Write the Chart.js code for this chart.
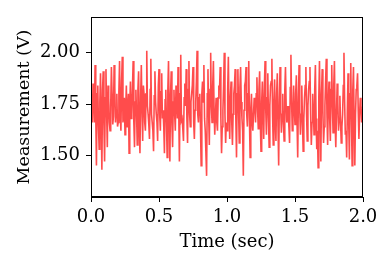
<!DOCTYPE html>
<html>
<head>
<meta charset="utf-8">
<script src="https://cdn.jsdelivr.net/npm/chart.js@4"></script>
<style>
html,body{margin:0;padding:0;background:#fff;}
#wrap{width:390px;height:264px;}
</style>
</head>
<body>
<div id="wrap"><canvas id="c" width="390" height="264"></canvas></div>
<script>
// Time axis (sec): main samples every 0.01 s from 0 to 2,
// with in-between samples half a step later
const timeStep = 0.01;
const measurement = [
1.80,1.66,1.78,1.94,1.45,1.84,1.53,1.90,1.43,1.91,
1.47,1.92,1.54,1.78,1.62,1.93,1.65,1.94,1.66,1.80,
1.66,1.96,1.62,1.98,1.70,1.60,1.84,1.72,1.51,1.86,
1.70,1.96,1.54,1.82,1.55,1.91,1.51,1.94,1.57,1.80,
1.62,2.01,1.70,1.58,1.97,1.66,1.52,1.91,1.70,1.57,
1.92,1.62,1.90,1.72,1.51,1.82,1.49,1.96,1.47,1.91,
1.54,1.82,1.62,1.78,1.93,1.47,1.99,1.68,1.57,1.85,
1.92,1.56,1.96,1.64,1.80,1.93,1.58,1.76,2.01,1.66,
1.80,1.45,1.86,1.94,1.62,1.40,1.92,1.55,2.00,1.66,
1.96,1.60,1.78,1.62,1.84,1.93,1.51,1.72,2.00,1.56,
1.62,1.98,1.58,1.86,1.55,1.80,1.92,1.49,1.92,1.56,
1.93,1.68,1.40,1.84,1.93,1.64,1.96,1.49,1.80,1.62,
1.78,1.66,1.88,1.63,1.91,1.52,1.86,1.58,1.96,1.60,
1.90,1.54,1.84,1.97,1.55,1.87,1.57,1.90,1.45,1.93,
1.61,1.80,1.57,1.93,1.66,1.74,1.56,1.99,1.62,1.84,
1.65,1.89,1.49,1.94,1.60,1.84,1.52,1.78,1.93,1.57,
1.82,1.93,1.55,1.80,1.60,1.94,1.53,1.44,1.96,1.47,
1.92,1.56,1.74,1.97,1.55,1.86,1.57,1.94,1.61,1.96,
1.54,1.85,1.62,1.79,1.56,1.70,2.00,1.60,1.49,1.90,
1.48,1.95,1.45,1.93,1.45,1.82,1.90,1.58,1.78,1.66,
1.76
];
// Measurement (V) at the in-between samples (dense core of the band)
const measurementMid = [
1.72,1.85,1.66,1.70,1.80,1.64,1.76,1.68,1.82,1.65,
1.78,1.70,1.84,1.66,1.74,1.80,1.69,1.83,1.72,1.64,
1.81,1.70,1.86,1.66,1.78,1.72,1.64,1.80,1.74,1.68,
1.83,1.66,1.76,1.70,1.82,1.64,1.78,1.72,1.84,1.66,
1.80,1.74,1.65,1.82,1.70,1.62,1.79,1.76,1.66,1.84,
1.70,1.81,1.68,1.64,1.77,1.66,1.82,1.70,1.80,1.65,
1.76,1.70,1.84,1.68,1.72,1.80,1.67,1.63,1.78,1.74,
1.68,1.82,1.70,1.76,1.84,1.66,1.72,1.86,1.70,1.78,
1.64,1.80,1.76,1.68,1.62,1.80,1.70,1.82,1.74,1.84,
1.72,1.70,1.66,1.78,1.82,1.68,1.64,1.84,1.70,1.66,
1.82,1.72,1.78,1.66,1.70,1.84,1.68,1.80,1.72,1.83,
1.76,1.62,1.72,1.86,1.70,1.80,1.68,1.72,1.66,1.70,
1.74,1.80,1.72,1.82,1.66,1.76,1.70,1.84,1.72,1.78,
1.68,1.74,1.86,1.70,1.76,1.66,1.80,1.64,1.76,1.72,
1.70,1.66,1.82,1.74,1.68,1.64,1.83,1.76,1.70,1.72,
1.80,1.66,1.78,1.72,1.70,1.66,1.68,1.84,1.70,1.74,
1.86,1.70,1.66,1.72,1.82,1.68,1.62,1.78,1.70,1.80,
1.72,1.64,1.86,1.70,1.76,1.68,1.82,1.74,1.84,1.66,
1.70,1.76,1.68,1.66,1.64,1.84,1.76,1.62,1.72,1.66,
1.80,1.68,1.82,1.66,1.70,1.84,1.72,1.70,1.74,1.70
];
const xTicks = [0.0, 0.5, 1.0, 1.5, 2.0];
const yTicks = [1.50, 1.75, 2.00];
const xLabel = 'Time (sec)';
const yLabel = 'Measurement (V)';

const points = [];
measurement.forEach((v, i) => {
  points.push({x: +(i * timeStep).toFixed(3), y: v});
  if (i < measurementMid.length) {
    points.push({x: +(i * timeStep + timeStep / 2).toFixed(3), y: measurementMid[i]});
  }
});

const FONT = 'DejaVu Serif';

const frame = {
  id: 'frame',
  afterDatasetsDraw(chart) {
    const {ctx, chartArea: a} = chart;
    ctx.save();
    ctx.strokeStyle = '#000';
    ctx.lineWidth = 1;
    ctx.strokeRect(Math.round(a.left) + 0.5, Math.round(a.top) + 0.5,
                   Math.round(a.right - a.left) - 1, Math.round(a.bottom - a.top) - 1);
    ctx.restore();
  }
};

new Chart(document.getElementById('c'), {
  type: 'line',
  data: {
    datasets: [{
      data: points,
      borderColor: 'rgba(255,0,0,0.7)',
      borderWidth: 1.6,
      pointRadius: 0,
      tension: 0,
      fill: false
    }]
  },
  options: {
    responsive: false,
    animation: false,
    devicePixelRatio: 1,
    layout: {padding: {left: 0, top: 17, right: 27, bottom: 0}},
    plugins: {legend: {display: false}, tooltip: {enabled: false}},
    scales: {
      x: {
        type: 'linear',
        min: 0, max: 2,
        afterBuildTicks: s => { s.ticks = xTicks.map(v => ({value: v})); },
        afterFit: s => { s.height = 67; },
        grid: {drawOnChartArea: false, drawTicks: true, tickLength: 5, color: '#000', tickWidth: 1},
        border: {display: true, color: '#000', width: 1},
        ticks: {color: '#000', font: {family: FONT, size: 18}, padding: 5, maxRotation: 0,
                callback: v => Number(v).toFixed(1)},
        title: {display: true, text: xLabel, color: '#000', font: {family: FONT, size: 18},
                padding: {top: 0, bottom: 11}}
      },
      y: {
        type: 'linear',
        min: 1.297, max: 2.174,
        afterBuildTicks: s => { s.ticks = yTicks.map(v => ({value: v})); },
        afterFit: s => { s.width = 91; },
        grid: {drawOnChartArea: false, drawTicks: true, tickLength: 5, color: '#000', tickWidth: 1},
        border: {display: true, color: '#000', width: 1},
        ticks: {color: '#000', font: {family: FONT, size: 18}, padding: 6,
                callback: v => Number(v).toFixed(2)},
        title: {display: true, text: yLabel, color: '#000', font: {family: FONT, size: 17.5},
                padding: {top: 14, bottom: 0}}
      }
    }
  },
  plugins: [frame]
});
</script>
</body>
</html>
